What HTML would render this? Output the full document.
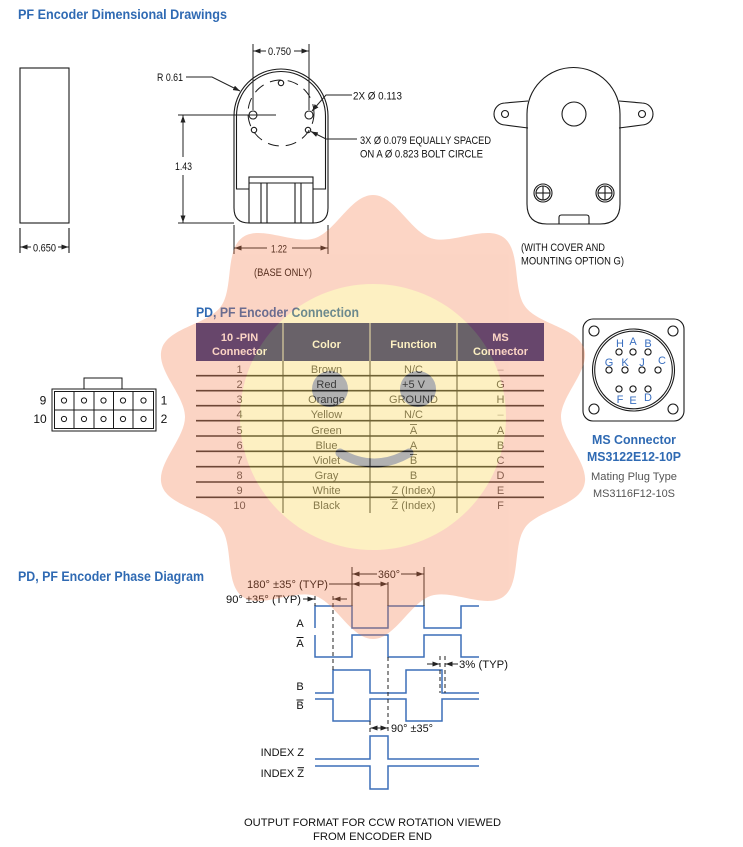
<!DOCTYPE html>
<html><head><meta charset="utf-8"><style>
html,body{margin:0;padding:0;background:#fff;}
svg{display:block;}
.n{font-family:"Liberation Sans Narrow","Liberation Sans",sans-serif;font-size:11px;fill:#111;}
.a{font-family:"Liberation Sans",sans-serif;font-size:11px;fill:#111;}
.h{font-family:"Liberation Sans",sans-serif;font-size:13.5px;font-weight:bold;fill:#2f6ab3;}
.th{font-family:"Liberation Sans",sans-serif;font-size:11px;font-weight:bold;fill:#fff;}
.td{font-family:"Liberation Sans",sans-serif;font-size:11px;fill:#555;}
.ms{font-family:"Liberation Sans",sans-serif;font-size:11px;fill:#3a6fc0;}
</style></head><body>
<svg width="743" height="847" viewBox="0 0 743 847" xmlns="http://www.w3.org/2000/svg">
<defs>
<marker id="ah" markerUnits="userSpaceOnUse" markerWidth="7" markerHeight="5" refX="7" refY="2.5" orient="auto"><path d="M0,0 L7,2.5 L0,5 z" fill="#222"/></marker>
</defs>
<rect width="743" height="847" fill="#fff"/>

<text class="h" x="18" y="19" textLength="209" lengthAdjust="spacingAndGlyphs">PF Encoder Dimensional Drawings</text>

<g stroke="#1a1a1a" stroke-width="1.1" fill="none">
<rect x="20" y="68" width="49" height="155"/>
<line x1="20" y1="228" x2="20" y2="253"/>
<line x1="69" y1="228" x2="69" y2="253"/>
</g>
<g stroke="#222" stroke-width="1">
<line x1="31" y1="247" x2="20.5" y2="247" marker-end="url(#ah)"/>
<line x1="58" y1="247" x2="68.5" y2="247" marker-end="url(#ah)"/>
</g>
<text class="n" x="33" y="251.5" textLength="23" lengthAdjust="spacingAndGlyphs">0.650</text>

<g stroke="#1a1a1a" stroke-width="1.1" fill="none">
<path d="M234,208 V116 A47,47 0 0 1 328,116 V208 Q328,223 313,223 H249 Q234,223 234,208 Z"/>
<path d="M249,189 H236.5 V116 A44.5,44.5 0 0 1 325.5,116 V189 H313"/>
<rect x="249" y="177" width="64" height="46"/>
<line x1="249" y1="183" x2="313" y2="183"/>
<line x1="261" y1="183" x2="261" y2="223"/>
<line x1="267" y1="183" x2="267" y2="223"/>
<line x1="295" y1="183" x2="295" y2="223"/>
<line x1="301" y1="183" x2="301" y2="223"/>
<circle cx="281" cy="113" r="33" stroke-dasharray="11 7" stroke-width="1"/>
<circle cx="253" cy="115" r="4"/>
<circle cx="309" cy="115" r="4"/>
<circle cx="281" cy="83" r="2.7"/>
<circle cx="254" cy="130" r="2.7"/>
<circle cx="308" cy="130" r="2.7"/>
</g>
<g stroke="#222" stroke-width="1" fill="none">
<line x1="253" y1="44" x2="253" y2="110"/>
<line x1="309" y1="44" x2="309" y2="110"/>
<line x1="266" y1="51" x2="253.5" y2="51" marker-end="url(#ah)"/>
<line x1="294" y1="51" x2="308.5" y2="51" marker-end="url(#ah)"/>
<line x1="178" y1="115" x2="276" y2="115"/>
<line x1="178" y1="223" x2="234" y2="223"/>
<line x1="183" y1="157" x2="183" y2="115.5" marker-end="url(#ah)"/>
<line x1="183" y1="175" x2="183" y2="222.5" marker-end="url(#ah)"/>
<line x1="234" y1="225" x2="234" y2="254"/>
<line x1="328" y1="225" x2="328" y2="254"/>
<line x1="267" y1="248" x2="234.5" y2="248" marker-end="url(#ah)"/>
<line x1="292" y1="248" x2="327.5" y2="248" marker-end="url(#ah)"/>
<polyline points="186,77 212,77 240,91" marker-end="url(#ah)"/>
<polyline points="352,95 326,95 312,111" marker-end="url(#ah)"/>
<polyline points="357,139 326,139 311,131.5" marker-end="url(#ah)"/>
</g>
<text class="n" x="157" y="81" textLength="26" lengthAdjust="spacingAndGlyphs">R 0.61</text>
<text class="n" x="268" y="55" textLength="23" lengthAdjust="spacingAndGlyphs">0.750</text>
<text class="n" x="175" y="170" textLength="17" lengthAdjust="spacingAndGlyphs">1.43</text>
<text class="n" x="271" y="252.5" textLength="16" lengthAdjust="spacingAndGlyphs">1.22</text>
<text class="n" x="254" y="276" textLength="58" lengthAdjust="spacingAndGlyphs">(BASE ONLY)</text>
<text class="n" x="353" y="99.5" textLength="49" lengthAdjust="spacingAndGlyphs">2X Ø 0.113</text>
<text class="n" x="360" y="144" textLength="131" lengthAdjust="spacingAndGlyphs">3X Ø 0.079 EQUALLY SPACED</text>
<text class="n" x="360" y="157.5" textLength="123" lengthAdjust="spacingAndGlyphs">ON A Ø  0.823 BOLT CIRCLE</text>

<g stroke="#1a1a1a" stroke-width="1.1" fill="none">
<path d="M527,114 A46.5,46.5 0 0 1 620,114 V204 Q620,224 600,224 H547 Q527,224 527,204 Z"/>
<path d="M528,101 L505,103 A11,11 0 0 0 505,125 L528,128"/>
<path d="M619,101 L642,103 A11,11 0 0 1 642,125 L619,128"/>
<circle cx="505" cy="114" r="3.5"/>
<circle cx="642" cy="114" r="3.5"/>
<circle cx="574" cy="114" r="12"/>
<circle cx="543" cy="193" r="9"/>
<circle cx="543" cy="193" r="7"/>
<line x1="536" y1="193" x2="550" y2="193"/>
<line x1="543" y1="186" x2="543" y2="200"/>
<circle cx="605" cy="193" r="9"/>
<circle cx="605" cy="193" r="7"/>
<line x1="598" y1="193" x2="612" y2="193"/>
<line x1="605" y1="186" x2="605" y2="200"/>
<path d="M559,224 V217.5 Q559,215 561.5,215 H586.5 Q589,215 589,217.5 V224"/>
</g>
<text class="n" x="521" y="251" textLength="84" lengthAdjust="spacingAndGlyphs">(WITH COVER AND</text>
<text class="n" x="521" y="264.5" textLength="103" lengthAdjust="spacingAndGlyphs">MOUNTING OPTION G)</text>

<text class="h" x="196" y="317" textLength="163" lengthAdjust="spacingAndGlyphs">PD, PF Encoder Connection</text>
<rect x="196" y="323" width="348" height="38" fill="#2a3380"/>
<g stroke="#f4f0e0" stroke-width="1">
<line x1="283" y1="323" x2="283" y2="361"/>
<line x1="370" y1="323" x2="370" y2="361"/>
<line x1="457" y1="323" x2="457" y2="361"/>
</g>
<text class="th" x="239.5" y="341" text-anchor="middle">10 -PIN</text>
<text class="th" x="239.5" y="355" text-anchor="middle">Connector</text>
<text class="th" x="326.5" y="348" text-anchor="middle">Color</text>
<text class="th" x="413.5" y="348" text-anchor="middle">Function</text>
<text class="th" x="500.5" y="341" text-anchor="middle">MS</text>
<text class="th" x="500.5" y="355" text-anchor="middle">Connector</text>
<g stroke="#333" stroke-width="1">
<line x1="283" y1="361" x2="283" y2="513"/>
<line x1="370" y1="361" x2="370" y2="513"/>
<line x1="457" y1="361" x2="457" y2="513"/>
</g>
<g stroke="#333" stroke-width="1.6">
<line x1="196" y1="375.7" x2="544" y2="375.7"/>
<line x1="196" y1="390.7" x2="544" y2="390.7"/>
<line x1="196" y1="405.7" x2="544" y2="405.7"/>
<line x1="196" y1="420.7" x2="544" y2="420.7"/>
<line x1="196" y1="436" x2="544" y2="436"/>
<line x1="196" y1="451.3" x2="544" y2="451.3"/>
<line x1="196" y1="466.7" x2="544" y2="466.7"/>
<line x1="196" y1="482" x2="544" y2="482"/>
<line x1="196" y1="497.3" x2="544" y2="497.3"/>
</g>
<g class="td" text-anchor="middle">
<text x="239.5" y="373">1</text><text x="326.5" y="373">Brown</text><text x="413.5" y="373">N/C</text><text x="500.5" y="373" fill="#aaa">–</text>
<text x="239.5" y="388">2</text><text x="326.5" y="388">Red</text><text x="413.5" y="388">+5 V</text><text x="500.5" y="388">G</text>
<text x="239.5" y="403">3</text><text x="326.5" y="403">Orange</text><text x="413.5" y="403">GROUND</text><text x="500.5" y="403">H</text>
<text x="239.5" y="418">4</text><text x="326.5" y="418">Yellow</text><text x="413.5" y="418">N/C</text><text x="500.5" y="418" fill="#aaa">–</text>
<text x="239.5" y="434">5</text><text x="326.5" y="434">Green</text><text x="413.5" y="434">A</text><text x="500.5" y="434">A</text>
<text x="239.5" y="449">6</text><text x="326.5" y="449">Blue</text><text x="413.5" y="449">A</text><text x="500.5" y="449">B</text>
<text x="239.5" y="464">7</text><text x="326.5" y="464">Violet</text><text x="413.5" y="464">B</text><text x="500.5" y="464">C</text>
<text x="239.5" y="479">8</text><text x="326.5" y="479">Gray</text><text x="413.5" y="479">B</text><text x="500.5" y="479">D</text>
<text x="239.5" y="494">9</text><text x="326.5" y="494">White</text><text x="413.5" y="494">Z (Index)</text><text x="500.5" y="494">E</text>
<text x="239.5" y="509">10</text><text x="326.5" y="509">Black</text><text x="413.5" y="509">Z (Index)</text><text x="500.5" y="509">F</text>
</g>
<g stroke="#555" stroke-width="0.9">
<line x1="410" y1="424.5" x2="417" y2="424.5"/>
<line x1="410" y1="454.5" x2="417" y2="454.5"/>
<line x1="390" y1="499.5" x2="397" y2="499.5"/>
</g>

<g stroke="#1a1a1a" stroke-width="1" fill="none">
<rect x="84" y="378" width="38" height="11"/>
<rect x="52" y="389" width="104" height="42" fill="#fff"/>
<rect x="54.5" y="391.5" width="99" height="37"/>
<line x1="74" y1="391.5" x2="74" y2="428.5"/>
<line x1="94" y1="391.5" x2="94" y2="428.5"/>
<line x1="113.5" y1="391.5" x2="113.5" y2="428.5"/>
<line x1="133" y1="391.5" x2="133" y2="428.5"/>
<line x1="54.5" y1="410" x2="153.5" y2="410"/>
<circle cx="64" cy="400.5" r="2.6"/><circle cx="84" cy="400.5" r="2.6"/><circle cx="103.5" cy="400.5" r="2.6"/><circle cx="123" cy="400.5" r="2.6"/><circle cx="143.5" cy="400.5" r="2.6"/>
<circle cx="64" cy="419" r="2.6"/><circle cx="84" cy="419" r="2.6"/><circle cx="103.5" cy="419" r="2.6"/><circle cx="123" cy="419" r="2.6"/><circle cx="143.5" cy="419" r="2.6"/>
</g>
<g class="n" style="font-size:12px" text-anchor="middle">
<text x="43" y="404.5">9</text><text x="40" y="423">10</text>
<text x="164" y="404.5">1</text><text x="164" y="423">2</text>
</g>

<g stroke="#1a1a1a" stroke-width="1.1" fill="none">
<rect x="583" y="319" width="101" height="102" rx="10"/>
<circle cx="594" cy="331" r="5"/><circle cx="673" cy="331" r="5"/>
<circle cx="594" cy="409" r="5"/><circle cx="673" cy="409" r="5"/>
<circle cx="633.5" cy="370" r="41"/>
<circle cx="633.5" cy="370" r="38.8"/>
<circle cx="619" cy="352" r="3.1"/><circle cx="633" cy="352" r="3.1"/><circle cx="648" cy="352" r="3.1"/>
<circle cx="609" cy="370" r="3.1"/><circle cx="625" cy="370" r="3.1"/><circle cx="642" cy="370" r="3.1"/><circle cx="658" cy="370" r="3.1"/>
<circle cx="619" cy="389" r="3.1"/><circle cx="633" cy="389" r="3.1"/><circle cx="648" cy="389" r="3.1"/>
</g>
<g class="ms" text-anchor="middle">
<text x="620" y="347">H</text><text x="633" y="345">A</text><text x="648" y="347">B</text>
<text x="609" y="366">G</text><text x="625" y="366">K</text><text x="642" y="366">J</text><text x="662" y="364">C</text>
<text x="620" y="403">F</text><text x="633" y="404">E</text><text x="648" y="401">D</text>
</g>
<text class="h" style="font-size:12.5px" x="592" y="444" textLength="84" lengthAdjust="spacingAndGlyphs">MS Connector</text>
<text class="h" style="font-size:12.5px" x="587" y="461" textLength="94" lengthAdjust="spacingAndGlyphs">MS3122E12-10P</text>
<text class="td" x="591" y="480" textLength="86" lengthAdjust="spacingAndGlyphs">Mating Plug Type</text>
<text class="td" x="593" y="497" textLength="82" lengthAdjust="spacingAndGlyphs">MS3116F12-10S</text>

<text class="h" x="18" y="581" textLength="186" lengthAdjust="spacingAndGlyphs">PD, PF Encoder Phase Diagram</text>
<g stroke="#3c6fb8" stroke-width="1.5" fill="none">
<polyline points="315,628 315,606 352,606 352,628 388,628 388,606 424,606 424,628 461,628 461,606 479,606"/>
<polyline points="315,635 315,657 352,657 352,635 388,635 388,657 424,657 424,635 461,635 461,657 479,657"/>
<polyline points="315,693 333,693 333,670 370,670 370,693 406,693 406,670 442,670 442,693 479,693"/>
<polyline points="315,699 333,699 333,721 370,721 370,699 406,699 406,721 442,721 442,699 479,699"/>
<polyline points="315,759 370,759 370,736 388,736 388,759 479,759"/>
<polyline points="315,766 370,766 370,789 388,789 388,766 479,766"/>
</g>
<g stroke="#222" stroke-width="1" fill="none">
<line x1="352" y1="567" x2="352" y2="606"/>
<line x1="424" y1="567" x2="424" y2="606"/>
<line x1="377" y1="574" x2="352.5" y2="574" marker-end="url(#ah)"/>
<line x1="401" y1="574" x2="423.5" y2="574" marker-end="url(#ah)"/>
<line x1="329" y1="584" x2="352" y2="584"/>
<line x1="370" y1="584" x2="352.5" y2="584" marker-end="url(#ah)"/>
<line x1="370" y1="584" x2="387.5" y2="584" marker-end="url(#ah)"/>
<line x1="388" y1="582" x2="388" y2="606"/>
<line x1="303" y1="599" x2="314.5" y2="599" marker-end="url(#ah)"/>
<line x1="347" y1="599" x2="333.5" y2="599" marker-end="url(#ah)"/>
<g stroke-dasharray="4 3">
<line x1="315" y1="596" x2="315" y2="606"/>
<line x1="333" y1="596" x2="333" y2="670"/>
<line x1="388" y1="657" x2="388" y2="732"/>
<line x1="370" y1="721" x2="370" y2="733"/>
<line x1="440" y1="656" x2="440" y2="693"/>
<line x1="445" y1="656" x2="445" y2="693"/>
</g>
<line x1="379" y1="728" x2="370.5" y2="728" marker-end="url(#ah)"/>
<line x1="379" y1="728" x2="387.5" y2="728" marker-end="url(#ah)"/>
<line x1="427" y1="664" x2="439.5" y2="664" marker-end="url(#ah)"/>
<line x1="458" y1="664" x2="445.5" y2="664" marker-end="url(#ah)"/>
</g>
<text class="a" x="378" y="578" textLength="22" lengthAdjust="spacingAndGlyphs">360°</text>
<text class="a" x="247" y="588" textLength="81" lengthAdjust="spacingAndGlyphs">180° ±35° (TYP)</text>
<text class="a" x="226" y="603" textLength="75" lengthAdjust="spacingAndGlyphs">90° ±35° (TYP)</text>
<text class="a" x="459" y="668" textLength="49" lengthAdjust="spacingAndGlyphs">3% (TYP)</text>
<text class="a" x="391" y="732" textLength="42" lengthAdjust="spacingAndGlyphs">90° ±35°</text>
<g class="a" text-anchor="middle">
<text x="300" y="627">A</text>
<text x="300" y="647">A</text>
<text x="300" y="690">B</text>
<text x="300" y="709">B</text>
</g>
<text class="a" x="304" y="756" text-anchor="end">INDEX Z</text>
<text class="a" x="304" y="777" text-anchor="end">INDEX Z</text>
<g stroke="#111" stroke-width="1">
<line x1="296.5" y1="637.5" x2="303.5" y2="637.5"/>
<line x1="296.5" y1="700" x2="303.5" y2="700"/>
<line x1="297.5" y1="767.7" x2="304" y2="767.7"/>
</g>
<text class="a" x="244" y="826" textLength="257" lengthAdjust="spacingAndGlyphs">OUTPUT FORMAT FOR CCW ROTATION VIEWED</text>
<text class="a" x="313" y="840" textLength="119" lengthAdjust="spacingAndGlyphs">FROM ENCODER END</text>

<g opacity="0.3">
<path fill="#f5733e" d="M373,195 C395,195 410.2,231.4 431.1,238.2 C452,245 485.7,224.5 503.5,237.4 C521.3,250.3 512.2,288.7 525.1,306.5 C538,324.3 577.3,327.5 584.1,348.4 C590.9,369.3 561,395 561,417 C561,439 590.9,464.7 584.1,485.6 C577.3,506.5 538,509.7 525.1,527.5 C512.2,545.3 521.3,583.7 503.5,596.6 C485.7,609.5 452,589 431.1,595.8 C410.2,602.6 395,639 373,639 C351,639 335.8,602.6 314.9,595.8 C294,589 260.3,609.5 242.5,596.6 C224.7,583.7 233.8,545.3 220.9,527.5 C208,509.7 168.7,506.5 161.9,485.6 C155.1,464.7 185,439 185,417 C185,395 155.1,369.3 161.9,348.4 C168.7,327.5 208,324.3 220.9,306.5 C233.8,288.7 224.7,250.3 242.5,237.4 C260.3,224.5 294,245 314.9,238.2 C335.8,231.4 351,195 373,195 Z"/>
<circle cx="373" cy="417" r="133" fill="#fad037"/>
<circle cx="330" cy="389" r="18" fill="#000"/>
<circle cx="418" cy="389" r="18" fill="#000"/>
<path d="M340,453 Q374,473 409,453" fill="none" stroke="#000" stroke-width="9" stroke-linecap="round"/>
</g>
</svg>
</body></html>
